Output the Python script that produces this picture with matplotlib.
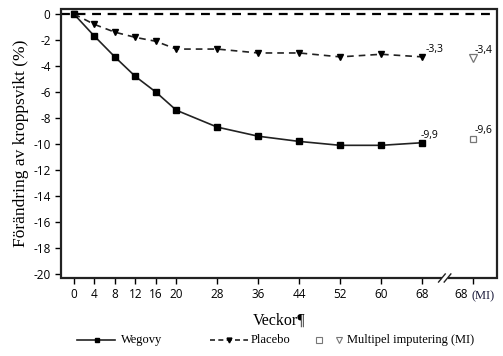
import matplotlib
matplotlib.use('Agg')
import matplotlib.pyplot as plt
import matplotlib.transforms as mtransforms
from matplotlib.lines import Line2D
from matplotlib.patches import Rectangle

# data
weeks = [0, 4, 8, 12, 16, 20, 28, 36, 44, 52, 60, 68]
wegovy = [0, -1.7, -3.3, -4.8, -6.0, -7.4, -8.7, -9.4, -9.8, -10.1, -10.1, -9.9]
placebo = [0, -0.8, -1.4, -1.8, -2.1, -2.7, -2.7, -3.0, -3.0, -3.3, -3.1, -3.3]
mi_week = 78
mi_wegovy = -9.6
mi_placebo = -3.4
end_labels = ['-9,9', '-3,3']
mi_labels = ['-9,6', '-3,4']
xtick_labels = [str(w) for w in weeks] + ['68']

serif = ['Liberation Serif', 'DejaVu Serif']
sans = ['Open Sans', 'DejaVu Sans']
dark = '#222222'

fig = plt.figure(figsize=(5.03, 3.56), dpi=100)
ax = fig.add_axes([0.1213, 0.2191, 0.8667, 0.7556])

ax.plot(weeks, wegovy, color=dark, lw=1.2, marker='s', ms=3.8,
        mfc='black', mec='black')
ax.plot(weeks, placebo, color=dark, lw=1.2, ls=(0, (4, 3)),
        marker='v', ms=4.3, mfc='black', mec='black')
ax.plot([mi_week], [mi_wegovy], ls='none', marker='s', ms=5,
        mfc='white', mec='#777777', mew=0.9)
ax.plot([mi_week], [mi_placebo], ls='none', marker='v', ms=5.5,
        mfc='white', mec='#777777', mew=0.9)
ax.axhline(0, color='black', lw=1.6, ls=(0, (4, 3)), zorder=1)

# value labels
ax.text(weeks[-1] - 0.3, wegovy[-1] + 0.15, end_labels[0], fontsize=7.5,
        family=sans, ha='left', va='bottom')
ax.text(weeks[-1] + 0.6, placebo[-1] + 0.15, end_labels[1], fontsize=7.5,
        family=sans, ha='left', va='bottom')
ax.text(mi_week + 0.3, mi_wegovy + 0.2, mi_labels[0], fontsize=7.5,
        family=sans, ha='left', va='bottom')
ax.text(mi_week + 0.3, mi_placebo + 0.2, mi_labels[1], fontsize=7.5,
        family=sans, ha='left', va='bottom')

ax.set_xlim(-2.5, 82.6)
ax.set_ylim(-20.3, 0.38)
ax.set_yticks(range(0, -21, -2))
ax.set_yticklabels([str(v) for v in range(0, -21, -2)], family=sans, fontsize=8.5)
ax.set_xticks(weeks + [mi_week])
ax.set_xticklabels(xtick_labels, family=sans, fontsize=8.5)
ax.tick_params(direction='out', length=4, width=1, color='black')

# shift the MI tick label left so "68 (MI)" is centred on the tick
shift = mtransforms.ScaledTranslation(-12 / 100, 0, fig.dpi_scale_trans)
last = ax.get_xticklabels()[-1]
last.set_transform(last.get_transform() + shift)

# frame: left spine, bottom handled below, box outline as a patch
for name in ['top', 'right', 'bottom']:
    ax.spines[name].set_visible(False)
ax.spines['left'].set_linewidth(1.4)
ax.spines['left'].set_color(dark)
ax.add_patch(Rectangle((0, 0), 1, 1, transform=ax.transAxes, fill=False,
                       ec=dark, lw=1.6, clip_on=False, zorder=5))

# axis break on the bottom spine: white gap over the box edge, then slashes
trans = ax.get_xaxis_transform()
ax.plot([71.9, 73.0], [0, 0], color='white', lw=3, transform=trans,
        clip_on=False, zorder=6, solid_capstyle='butt')
ax.plot([71.2, 72.5], [-0.015, 0.015], color=dark, lw=1, transform=trans,
        clip_on=False, zorder=7)
ax.plot([72.3, 73.6], [-0.015, 0.015], color=dark, lw=1, transform=trans,
        clip_on=False, zorder=7)

ax.text(mi_week - 0.4, -0.047, '(MI)', transform=trans, family=serif,
        fontsize=9, color='#1a1a3a', ha='left', va='top')

ax.set_ylabel('Förändring av kroppsvikt (%)', family=serif, fontsize=12.5, labelpad=3)
ax.set_xlabel('Veckor¶', family=serif, fontsize=11.5, labelpad=8)

# legend drawn by hand in figure pixels
W, H = 503.0, 356.0
ly = 1 - 340 / H
fig.add_artist(Line2D([77 / W, 115 / W], [ly, ly], color=dark, lw=1.2))
fig.add_artist(Line2D([97 / W], [ly], marker='s', ms=3, color='black'))
fig.text(121 / W, ly, 'Wegovy', family=serif, fontsize=9, va='center')
fig.add_artist(Line2D([210 / W, 248 / W], [ly, ly], color=dark, lw=1.2, ls=(0, (3, 2))))
fig.add_artist(Line2D([229 / W], [ly], marker='v', ms=3.5, color='black'))
fig.text(251 / W, ly, 'Placebo', family=serif, fontsize=9, va='center')
fig.add_artist(Line2D([319 / W], [ly], marker='s', ms=4.5, mfc='white', mec='#777777', mew=0.8))
fig.add_artist(Line2D([339 / W], [ly], marker='v', ms=4.5, mfc='white', mec='#777777', mew=0.8))
fig.text(347 / W, ly, 'Multipel imputering (MI)', family=serif, fontsize=9, va='center')

fig.savefig('out.png', dpi=100)
